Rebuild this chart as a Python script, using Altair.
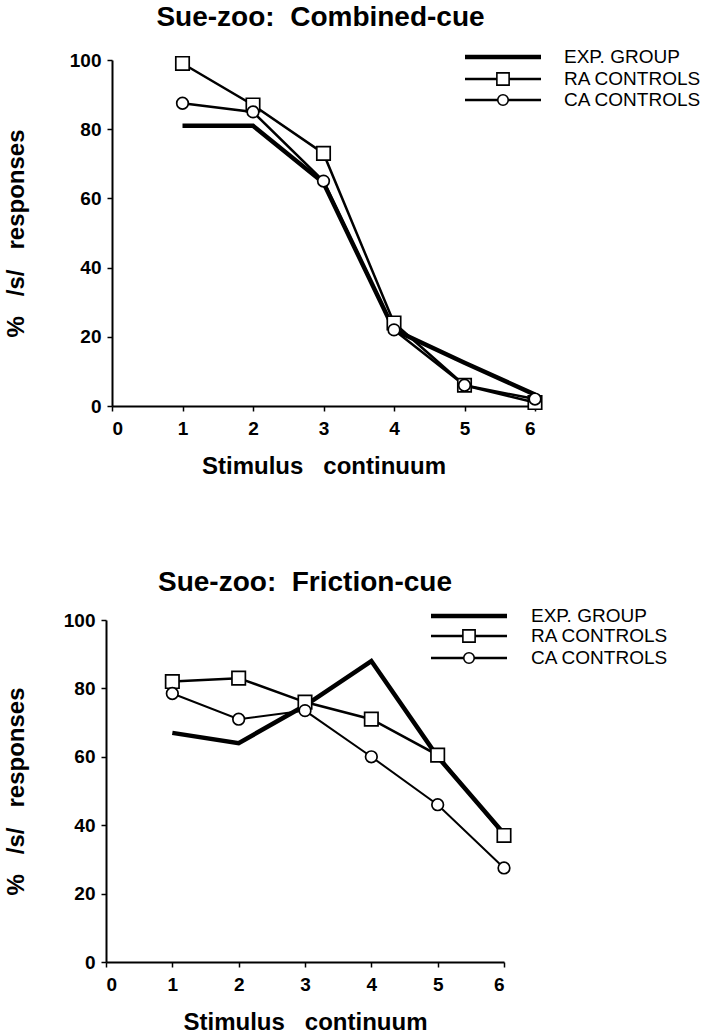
import altair as alt
import pandas as pd

# ---- data ----
stimulus = [1, 2, 3, 4, 5, 6]
combined_exp = [81, 81, 64.5, 22, 12.5, 3.3]
combined_ra = [99, 87, 73, 24, 6, 1]
combined_ca = [87.5, 85, 65, 22, 6, 2]
friction_exp = [67, 64, 75, 88, 60, 37.5]
friction_ra = [82, 83, 76, 71, 60.5, 37]
friction_ca = [78.5, 71, 73.5, 60, 46, 27.5]
x_ticks = [0, 1, 2, 3, 4, 5, 6]
y_ticks = [0, 20, 40, 60, 80, 100]
legend_labels = ["EXP. GROUP", "RA CONTROLS", "CA CONTROLS"]
titles = ["Sue-zoo:\u00a0\u00a0Combined-cue", "Sue-zoo:\u00a0\u00a0Friction-cue"]

FONT = "Liberation Sans"
NB = "\u00a0"


def panel(title, exp, ra, ca, w, h, shift, lx0, lx1, ltext, ly, ca_width,
          y_title_pad, title_offset):
    df = pd.DataFrame({
        "stim": stimulus * 3,
        "val": exp + ra + ca,
        "group": ["EXP"] * 6 + ["RA"] * 6 + ["CA"] * 6,
    })
    x = alt.X("stim:Q",
              scale=alt.Scale(domain=[0, 6], nice=False, zero=False,
                              range=[shift, shift + w]),
              axis=alt.Axis(values=x_ticks, format="d",
                            title=f"Stimulus{NB}{NB}{NB}continuum"))
    y = alt.Y("val:Q", scale=alt.Scale(domain=[0, 100], nice=False),
              axis=alt.Axis(values=y_ticks, format="d", titlePadding=y_title_pad,
                            offset=-shift,
                            title=f"%{NB}{NB}{NB}/s/{NB}{NB}{NB}responses"))
    base = alt.Chart(df)
    exp_line = base.transform_filter(alt.datum.group == "EXP").mark_line(
        color="black", strokeWidth=4.5).encode(x=x, y=y)
    ra_line = base.transform_filter(alt.datum.group == "RA").mark_line(
        color="black", strokeWidth=2.5).encode(x=x, y=y)
    ca_line = base.transform_filter(alt.datum.group == "CA").mark_line(
        color="black", strokeWidth=ca_width).encode(x=x, y=y)
    ra_pts = base.transform_filter(alt.datum.group == "RA").mark_point(
        shape="square", filled=True, fill="white", stroke="black",
        strokeWidth=1.7, size=180, opacity=1).encode(x=x, y=y)
    ca_pts = base.transform_filter(alt.datum.group == "CA").mark_point(
        shape="circle", filled=True, fill="white", stroke="black",
        strokeWidth=1.7, size=135, opacity=1).encode(x=x, y=y)

    one = alt.Data(values=[{"k": 0}])
    leg = []
    widths = [4.5, 2.5, 2.5]
    shapes = [None, "square", "circle"]
    sizes = [0, 150, 110]
    for i, lab in enumerate(legend_labels):
        leg.append(alt.Chart(one).mark_rule(color="black", strokeWidth=widths[i]).encode(
            x=alt.value(shift + lx0), x2=alt.value(shift + lx1), y=alt.value(ly[i])))
        if shapes[i]:
            leg.append(alt.Chart(one).mark_point(
                shape=shapes[i], filled=True, fill="white", stroke="black",
                strokeWidth=1.6, size=sizes[i], opacity=1).encode(
                x=alt.value(shift + (lx0 + lx1) / 2), y=alt.value(ly[i])))
        leg.append(alt.Chart(one).mark_text(
            align="left", baseline="middle", font=FONT, fontSize=19,
            color="black").encode(
            x=alt.value(shift + ltext), y=alt.value(ly[i]), text=alt.value(lab)))

    return alt.layer(exp_line, ra_line, ca_line, ra_pts, ca_pts, *leg).properties(
        width=w + shift, height=h,
        title=alt.TitleParams(title, frame="group", anchor="middle", font=FONT,
                              fontSize=28, fontWeight="bold", color="black",
                              offset=title_offset),
    )


top = panel(titles[0], combined_exp, combined_ra, combined_ca,
            423, 346, 6, 353, 429, 452, [-3, 19, 40], 2.5, 41, 16)
bottom = panel(titles[1], friction_exp, friction_ra, friction_ca,
               398, 342, 0, 325, 401, 425, [-4, 16, 38], 2.0, 35, 10)

chart = alt.concat(top, bottom, columns=1, spacing=91).properties(
    padding={"left": 4, "top": 4, "right": 0, "bottom": 0}
).configure_view(stroke=None).configure_axis(
    grid=False, domainColor="black", domainWidth=2, tickColor="black",
    tickWidth=1.5, tickSize=5, labelFont=FONT, labelFontSize=19,
    labelFontWeight="bold", labelColor="black", titleFont=FONT,
    titleFontSize=24, titleFontWeight="bold", titleColor="black",
).configure_axisY(labelPadding=6).configure_axisX(
    titlePadding=16, labelPadding=8)

chart.save("out.html", embed_options={"renderer": "svg", "actions": False})
